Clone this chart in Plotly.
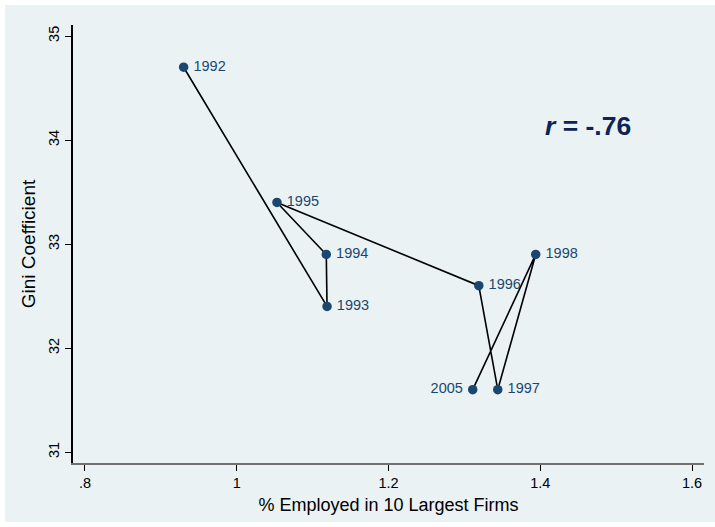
import plotly.graph_objects as go

years = ["1992", "1993", "1994", "1995", "1996", "1997", "1998", "2005"]
employed = [0.930, 1.119, 1.118, 1.053, 1.319, 1.344, 1.394, 1.311]
gini = [34.7, 32.4, 32.9, 33.4, 32.6, 31.6, 32.9, 31.6]
label_pos = ["middle right"] * 7 + ["middle left"]

x_ticks = [0.8, 1.0, 1.2, 1.4, 1.6]
x_ticklabels = [".8", "1", "1.2", "1.4", "1.6"]
y_ticks = [31, 32, 33, 34, 35]

navy = "#1a476f"
bg = "#eaf2f3"

fig = go.Figure()
fig.add_trace(go.Scatter(
    x=employed, y=gini, mode="lines",
    line=dict(color="black", width=1.6), hoverinfo="skip", showlegend=False))
fig.add_trace(go.Scatter(
    x=employed, y=gini, mode="markers+text",
    marker=dict(color=navy, size=9.5),
    text=[("\u2009" + t) if p.endswith("right") else (t + "\u2009") for t, p in zip(years, label_pos)],
    textposition=label_pos,
    textfont=dict(color=navy, size=14.5, family="Liberation Sans, Arial"),
    showlegend=False))

fig.add_annotation(x=1.463, y=34.135, xref="x", yref="y",
                   text="<b><i>r</i> = -.76</b>", showarrow=False,
                   font=dict(size=26.5, color="#0e2356", family="Liberation Sans, Arial"))

fig.add_shape(type="rect", xref="paper", yref="paper",
              x0=-0.1078, x1=1.0174, y0=-0.1347, y1=1.0457,
              fillcolor=bg, line=dict(width=0), layer="below")

fig.update_layout(
    width=715, height=527,
    margin=dict(l=73, r=11, t=25, b=64),
    paper_bgcolor="white", plot_bgcolor="white",
    font=dict(family="Liberation Sans, Arial", color="black"),
    xaxis=dict(range=[0.7842, 1.6158], tickvals=x_ticks, ticktext=x_ticklabels,
               ticks="outside", ticklen=6, tickcolor="black", showgrid=False,
               showline=True, linecolor="#707070", linewidth=2, zeroline=False,
               tickfont=dict(size=14.5),
               title=dict(text="% Employed in 10 Largest Firms", font=dict(size=18), standoff=8)),
    yaxis=dict(range=[30.895, 35.106], tickvals=y_ticks, tickangle=-90,
               ticks="outside", ticklen=6, tickcolor="black", showgrid=True,
               gridcolor=bg, gridwidth=2, showline=True, linecolor="black", linewidth=1.5,
               zeroline=False, tickfont=dict(size=14.5),
               title=dict(text="Gini Coefficient", font=dict(size=19), standoff=6)),
)

fig.write_html("out.html")
